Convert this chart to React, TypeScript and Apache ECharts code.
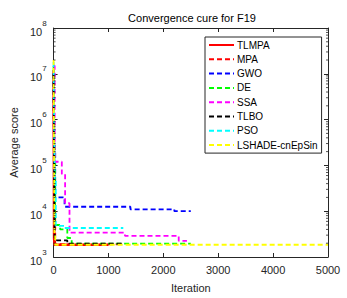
import React, { useEffect, useRef } from "react";
import * as echarts from "echarts";

const seriesNames = ["TLMPA", "MPA", "GWO", "DE", "SSA", "TLBO", "PSO", "LSHADE-cnEpSin"];
const seriesColors = ["#ff0000", "#ff0000", "#0000ff", "#00ff00", "#ff00ff", "#000000", "#00ffff", "#ffff00"];

// [iteration, best score] breakpoints of each convergence curve
const tlmpa = [[0, 1.2e7], [5, 3e5], [10, 2.5e3], [20, 1.85e3], [1000, 1.85e3]];
const mpa = [[0, 1e7], [10, 1e4], [30, 1.9e3], [1200, 1.85e3]];
const gwo = [[0, 1e7], [10, 2e5], [30, 2e4], [200, 1.25e4], [1400, 1.1e4], [2200, 1.0e4], [2500, 1.0e4]];
const de = [[0, 1.5e7], [10, 3e5], [25, 5e3], [120, 4e3], [250, 2.6e3], [330, 1.95e3], [2500, 1.9e3]];
const ssa = [[0, 1.5e7], [20, 1.2e5], [150, 6.5e4], [210, 1.5e4], [290, 3.4e3], [1300, 2.9e3], [2280, 2.25e3], [2430, 2.25e3]];
const tlbo = [[0, 1e7], [10, 5e4], [20, 2.6e3], [60, 2.3e3], [250, 1.95e3], [1250, 1.9e3]];
const pso = [[0, 1.8e7], [10, 1e6], [20, 5e4], [40, 4.8e3], [200, 4.3e3], [1270, 4.3e3]];
const lshade = [[0, 2e7], [5, 1e6], [15, 3e3], [30, 1.85e3], [5000, 1.85e3]];

const seriesData = [tlmpa, mpa, gwo, de, ssa, tlbo, pso, lshade];

const xTicks = [0, 1000, 2000, 3000, 4000, 5000];
const yMin = 1e3;
const yMax = 1e8;
const minorTickValues: number[] = [];
for (let e = 3; e < 8; e++) {
  for (let m = 2; m <= 9; m++) minorTickValues.push(m * Math.pow(10, e));
}

const AXIS = "#262626";
const FONT = "'Liberation Sans', Arial, sans-serif";

export default function App() {
  const ref = useRef<HTMLDivElement>(null);
  useEffect(() => {
    document.body.style.margin = "0";
    if (!ref.current) return;
    const chart = echarts.init(ref.current, undefined, { renderer: "svg" });
    const lineSeries = seriesNames.map((name, i) => ({
      name,
      type: "line",
      data: seriesData[i],
      step: "end",
      showSymbol: false,
      symbol: "none",
      lineStyle: {
        color: seriesColors[i],
        width: i === 0 ? 2.6 : 1.8,
        type: i === 0 ? "solid" : [5, 3],
      },
      itemStyle: { color: seriesColors[i] },
      z: 2 + i,
      silent: true,
    }));
    const minorSeries = {
      name: "minor",
      type: "custom",
      silent: true,
      clip: false,
      z: 20,
      xAxisIndex: 0,
      yAxisIndex: 0,
      data: minorTickValues.map((v) => [0, v]),
      renderItem: (_p: any, api: any) => {
        const v = api.value(1);
        const a = api.coord([xTicks[0], v]);
        const b = api.coord([xTicks[xTicks.length - 1], v]);
        return {
          type: "group",
          children: [
            { type: "line", shape: { x1: a[0], y1: a[1], x2: a[0] + 2, y2: a[1] }, style: { stroke: AXIS, lineWidth: 0.8 } },
            { type: "line", shape: { x1: b[0], y1: b[1], x2: b[0] - 2, y2: b[1] }, style: { stroke: AXIS, lineWidth: 0.8 } },
          ],
        };
      },
    };
    const supFmt = (v: number) => `{b|10}{s|${Math.round(Math.log10(v))}}`;
    chart.setOption({
      animation: false,
      backgroundColor: "#ffffff",
      textStyle: { fontFamily: FONT },
      title: {
        text: "Convergence cure for F19",
        left: 187,
        textAlign: "center",
        top: 7,
        textStyle: { fontSize: 11, fontWeight: "normal", color: "#000", fontFamily: FONT },
      },
      legend: {
        data: seriesNames,
        orient: "vertical",
        left: 205,
        top: 37,
        itemWidth: 25,
        itemHeight: 10,
        itemGap: 4.3,
        padding: [3, 4, 3, 3],
        borderColor: AXIS,
        borderWidth: 1,
        backgroundColor: "#ffffff",
        itemStyle: { opacity: 0 },
        textStyle: { fontSize: 10, color: "#000", fontFamily: FONT, padding: [0, 0, 0, -2] },
        z: 30,
      },
      grid: { left: 47, right: 19, top: 28, bottom: 40, containLabel: false },
      xAxis: [
        {
          type: "value",
          min: 0,
          max: 5000,
          interval: 1000,
          name: "Iteration",
          nameLocation: "middle",
          nameGap: 25,
          nameTextStyle: { fontSize: 11, color: AXIS, fontFamily: FONT },
          axisLine: { show: true, lineStyle: { color: AXIS, width: 1 } },
          axisTick: { show: true, inside: true, length: 4, lineStyle: { color: AXIS } },
          axisLabel: { fontSize: 11, color: AXIS, margin: 7, fontFamily: FONT, formatter: (v: number) => String(v) },
          splitLine: { show: false },
        },
        {
          type: "value",
          position: "top",
          min: 0,
          max: 5000,
          interval: 1000,
          axisLine: { show: true, onZero: false, lineStyle: { color: AXIS, width: 1 } },
          axisTick: { show: true, inside: true, length: 4, lineStyle: { color: AXIS } },
          axisLabel: { show: false },
          splitLine: { show: false },
        },
      ],
      yAxis: [
        {
          type: "log",
          logBase: 10,
          min: yMin,
          max: yMax,
          name: "Average score",
          nameLocation: "middle",
          nameGap: 30,
          nameTextStyle: { fontSize: 11, color: AXIS, fontFamily: FONT },
          axisLine: { show: true, lineStyle: { color: AXIS, width: 1 } },
          axisTick: { show: true, inside: true, length: 4, lineStyle: { color: AXIS } },
          axisLabel: {
            formatter: supFmt,
            margin: 7,
            color: AXIS,
            rich: {
              b: { fontSize: 11, color: AXIS, fontFamily: FONT, verticalAlign: "bottom", lineHeight: 18 },
              s: { fontSize: 8, color: AXIS, fontFamily: FONT, verticalAlign: "top", lineHeight: 18 },
            },
          },
          splitLine: { show: false },
        },
        {
          type: "log",
          logBase: 10,
          min: yMin,
          max: yMax,
          position: "right",
          axisLine: { show: true, onZero: false, lineStyle: { color: AXIS, width: 1 } },
          axisTick: { show: true, inside: true, length: 4, lineStyle: { color: AXIS } },
          axisLabel: { show: false },
          splitLine: { show: false },
        },
      ],
      series: [...lineSeries, minorSeries],
    });
    return () => chart.dispose();
  }, []);
  return <div ref={ref} style={{ width: 347, height: 298 }} />;
}
